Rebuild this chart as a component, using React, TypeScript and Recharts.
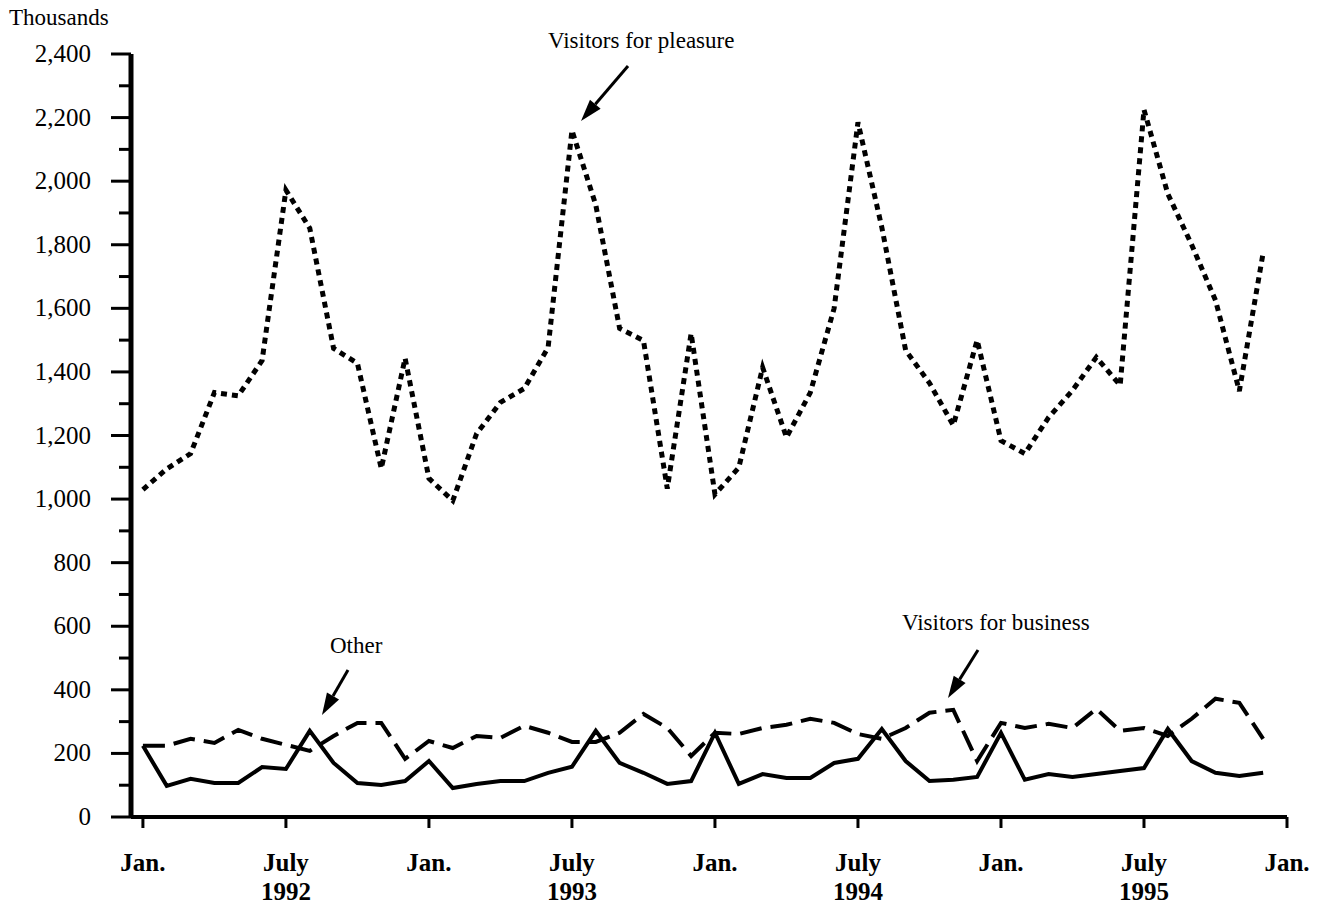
import { LineChart, Line, XAxis, YAxis } from "recharts";

// monthly visitors (thousands), Jan. 1992 - Dec. 1995
const pleasure = [
  1030, 1095, 1143, 1335, 1325, 1436, 1972, 1852, 1474, 1427, 1096, 1443,
  1065, 995, 1206, 1304, 1348, 1477, 2160, 1925, 1537, 1499, 1033, 1521,
  1015, 1099, 1414, 1194, 1335, 1600, 2185, 1855, 1468, 1365, 1232, 1500,
  1184, 1143, 1257, 1342, 1446, 1358, 2225, 1960, 1800, 1625, 1340, 1775,
];
const business = [
  224, 224, 246, 233, 274, 246, 227, 208, 255, 296, 296, 183,
  239, 217, 255, 249, 287, 265, 236, 236, 265, 324, 280, 192,
  265, 261, 280, 290, 309, 296, 261, 246, 280, 328, 337, 176,
  296, 280, 293, 280, 340, 271, 280, 255, 309, 372, 359, 246,
];
const other = [
  224, 98, 120, 107, 107, 157, 151, 271, 170, 107, 101, 113,
  176, 91, 104, 113, 113, 139, 158, 271, 170, 139, 104, 113,
  265, 104, 135, 123, 123, 170, 183, 277, 176, 113, 117, 126,
  265, 117, 135, 126, 135, 145, 154, 277, 176, 139, 129, 139,
];

const xTicks = [0, 6, 12, 18, 24, 30, 36, 42, 48];
const xTickMonth = ["Jan.", "July", "Jan.", "July", "Jan.", "July", "Jan.", "July", "Jan."];
const xTickYear = ["", "1992", "", "1993", "", "1994", "", "1995", ""];
const yTicks = [
  0, 100, 200, 300, 400, 500, 600, 700, 800, 900, 1000, 1100, 1200,
  1300, 1400, 1500, 1600, 1700, 1800, 1900, 2000, 2100, 2200, 2300, 2400,
];

const data = pleasure.map((v, i) => ({
  m: i,
  pleasure: v,
  business: business[i],
  other: other[i],
}));

const FONT = '"Liberation Serif", "Times New Roman", serif';

const fmt = (n: number) => String(n).replace(/\B(?=(\d{3})+(?!\d))/g, ",");

/* eslint-disable @typescript-eslint/no-explicit-any */
function XTick({ x, y, payload }: any) {
  const i = xTicks.indexOf(payload.value);
  return (
    <g>
      <line x1={x} x2={x} y1={y} y2={y + 11} stroke="#000" strokeWidth={3} />
      <text
        x={x}
        y={y + 54}
        textAnchor="middle"
        fontFamily={FONT}
        fontWeight="bold"
        fontSize={25}
        fill="#000"
      >
        {xTickMonth[i]}
      </text>
      {xTickYear[i] && (
        <text
          x={x}
          y={y + 83}
          textAnchor="middle"
          fontFamily={FONT}
          fontWeight="bold"
          fontSize={25}
          fill="#000"
        >
          {xTickYear[i]}
        </text>
      )}
    </g>
  );
}

function YTick({ x, y, payload }: any) {
  const major = payload.value % 200 === 0;
  return (
    <g>
      <line x1={x - (major ? 20 : 12)} x2={x} y1={y} y2={y} stroke="#000" strokeWidth={3} />
      {major && (
        <text x={x - 40} y={y} dy={8} textAnchor="end" fontFamily={FONT} fontSize={25} fill="#000">
          {fmt(payload.value)}
        </text>
      )}
    </g>
  );
}
/* eslint-enable @typescript-eslint/no-explicit-any */

function Arrow({ x1, y1, x2, y2 }: { x1: number; y1: number; x2: number; y2: number }) {
  const len = Math.hypot(x2 - x1, y2 - y1);
  const ux = (x2 - x1) / len;
  const uy = (y2 - y1) / len;
  const hl = 22;
  const hw = 7;
  const bx = x2 - ux * hl;
  const by = y2 - uy * hl;
  return (
    <g>
      <line x1={x1} y1={y1} x2={bx} y2={by} stroke="#000" strokeWidth={3} />
      <polygon
        points={`${x2},${y2} ${bx - uy * hw},${by + ux * hw} ${bx + uy * hw},${by - ux * hw}`}
        fill="#000"
      />
    </g>
  );
}

export default function App() {
  return (
    <div style={{ position: "absolute", left: 0, top: 0, width: 1317, height: 904, background: "#fff" }}>
      <LineChart
        width={1317}
        height={904}
        data={data}
        margin={{ top: 54, right: 30, left: 0, bottom: 0 }}
      >
        <XAxis
          dataKey="m"
          type="number"
          domain={[-0.5, 48]}
          ticks={xTicks}
          height={87}
          tickSize={0}
          tickMargin={0}
          tickLine={false}
          axisLine={{ stroke: "#000", strokeWidth: 4 }}
          tick={<XTick />}
          interval={0}
          allowDataOverflow
        />
        <YAxis
          type="number"
          domain={[0, 2400]}
          ticks={yTicks}
          width={131}
          tickSize={0}
          tickMargin={0}
          tickLine={false}
          axisLine={{ stroke: "#000", strokeWidth: 5 }}
          tick={<YTick />}
          interval={0}
        />
        <Line
          type="linear"
          dataKey="pleasure"
          stroke="#000"
          strokeWidth={5}
          strokeDasharray="6 5"
          dot={false}
          isAnimationActive={false}
        />
        <Line
          type="linear"
          dataKey="business"
          stroke="#000"
          strokeWidth={4}
          strokeDasharray="22 9"
          dot={false}
          isAnimationActive={false}
        />
        <Line
          type="linear"
          dataKey="other"
          stroke="#000"
          strokeWidth={4}
          dot={false}
          isAnimationActive={false}
        />
      </LineChart>

      {/* annotations */}
      <svg
        width={1317}
        height={904}
        style={{ position: "absolute", left: 0, top: 0, pointerEvents: "none" }}
      >
        <g fontFamily={FONT} fill="#000">
          <text x={9} y={25} fontSize={23}>Thousands</text>
          <text x={548} y={48} fontSize={23}>Visitors for pleasure</text>
          <text x={330} y={653} fontSize={23}>Other</text>
          <text x={902} y={630} fontSize={23}>Visitors for business</text>
        </g>
        <Arrow x1={628} y1={66} x2={581} y2={121} />
        <Arrow x1={348} y1={670} x2={322} y2={715} />
        <Arrow x1={978} y1={650} x2={948} y2={698} />
      </svg>
    </div>
  );
}
